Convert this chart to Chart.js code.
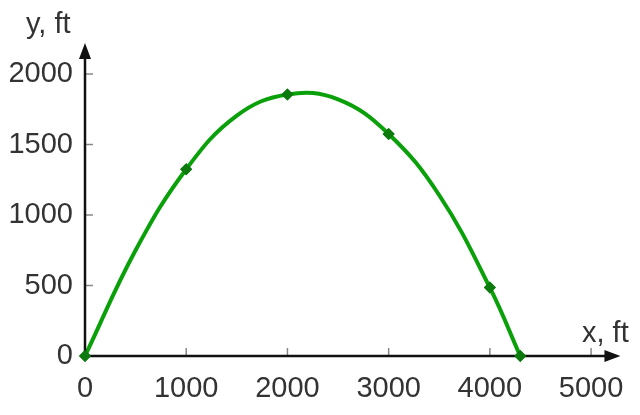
<!DOCTYPE html>
<html>
<head>
<meta charset="utf-8">
<script src="https://cdn.jsdelivr.net/npm/chart.js@4"></script>
<style>
  html, body { margin: 0; padding: 0; background: #fff; }
  #wrap { width: 640px; height: 415px; }
</style>
</head>
<body>
<div id="wrap"><canvas id="trajChart"></canvas></div>
<script>
// values (markers only where drawn)
const distFt   = [0, 500, 1000, 1500, 2000, 2500, 3000, 3500, 4000, 4300];
const heightFt = [0, 750, 1325, 1705, 1855, 1820, 1575, 1140, 485, 0];
const markerOn = [1, 0, 1, 0, 1, 0, 1, 0, 1, 1];
const xTicks = [0, 1000, 2000, 3000, 4000, 5000];
const yTicks = [0, 500, 1000, 1500, 2000];

const font = "'Liberation Sans', Arial, sans-serif";
const fontSize = 29;

const axesPlugin = {
  id: 'arrowAxes',
  afterDatasetsDraw(chart) {
    const { ctx, scales: { x, y } } = chart;
    const x0 = x.getPixelForValue(0);
    const y0 = y.getPixelForValue(0);
    const xEnd = x.right;
    const yEnd = y.top;
    ctx.save();
    // tick marks (inside)
    ctx.strokeStyle = '#888';
    ctx.lineWidth = 1.5;
    yTicks.forEach(v => {
      if (v === 0) return;
      const py = y.getPixelForValue(v);
      ctx.beginPath(); ctx.moveTo(x0, py); ctx.lineTo(x0 + 8, py); ctx.stroke();
    });
    xTicks.forEach(v => {
      if (v === 0) return;
      const px = x.getPixelForValue(v);
      ctx.beginPath(); ctx.moveTo(px, y0); ctx.lineTo(px, y0 - 8); ctx.stroke();
    });
    // axes
    ctx.strokeStyle = '#111';
    ctx.fillStyle = '#111';
    ctx.lineWidth = 2.5;
    ctx.beginPath(); ctx.moveTo(x0, y0); ctx.lineTo(xEnd - 10, y0); ctx.stroke();
    ctx.beginPath(); ctx.moveTo(x0, y0); ctx.lineTo(x0, yEnd + 10); ctx.stroke();
    ctx.beginPath();
    ctx.moveTo(xEnd, y0); ctx.lineTo(xEnd - 16, y0 - 6); ctx.lineTo(xEnd - 16, y0 + 6); ctx.closePath();
    ctx.fill();
    ctx.beginPath();
    ctx.moveTo(x0, yEnd); ctx.lineTo(x0 - 6, yEnd + 16); ctx.lineTo(x0 + 6, yEnd + 16); ctx.closePath();
    ctx.fill();
    // axis titles
    ctx.fillStyle = '#333';
    ctx.font = fontSize + 'px ' + font;
    ctx.textAlign = 'left';
    ctx.textBaseline = 'alphabetic';
    ctx.fillText('y, ft', 26, 33);
    ctx.fillText('x, ft', 582, 342);
    ctx.restore();
  },
  afterDraw(chart) {
    // markers on top of the axes
    chart.getDatasetMeta(0).data.forEach((pt, i) => { if (markerOn[i]) pt.draw(chart.ctx); });
  }
};

new Chart(document.getElementById('trajChart'), {
  type: 'line',
  data: {
    labels: distFt,
    datasets: [{
      data: distFt.map((d, i) => ({ x: d, y: heightFt[i] })),
      borderColor: '#0aa00a',
      borderWidth: 4,
      tension: 0.4,
      pointStyle: 'rectRot',
      pointRadius: markerOn.map(m => m ? 6 : 0),
      pointBackgroundColor: '#0d7a0d',
      pointBorderColor: '#0d7a0d',
      pointBorderWidth: 0,
      fill: false,
      clip: false
    }]
  },
  options: {
    responsive: true,
    maintainAspectRatio: false,
    animation: false,
    layout: { padding: { top: 43, right: 12, left: 0, bottom: 0 } },
    plugins: { legend: { display: false }, tooltip: { enabled: false } },
    scales: {
      x: {
        type: 'linear',
        min: 0,
        max: 5290,
        afterBuildTicks: s => { s.ticks = xTicks.map(v => ({ value: v })); },
        afterFit: s => { s.height = 59; },
        grid: { display: false, drawTicks: false },
        border: { display: false },
        ticks: {
          color: '#333',
          padding: 16,
          maxRotation: 0,
          callback: v => String(v),
          font: { family: font, size: fontSize }
        }
      },
      y: {
        type: 'linear',
        min: 0,
        max: 2220,
        afterBuildTicks: s => { s.ticks = yTicks.map(v => ({ value: v })); },
        afterFit: s => { s.width = 85; },
        grid: { display: false, drawTicks: false },
        border: { display: false },
        ticks: {
          color: '#333',
          padding: 12,
          callback: v => String(v),
          font: { family: font, size: fontSize }
        }
      }
    }
  },
  plugins: [axesPlugin]
});
</script>
</body>
</html>
